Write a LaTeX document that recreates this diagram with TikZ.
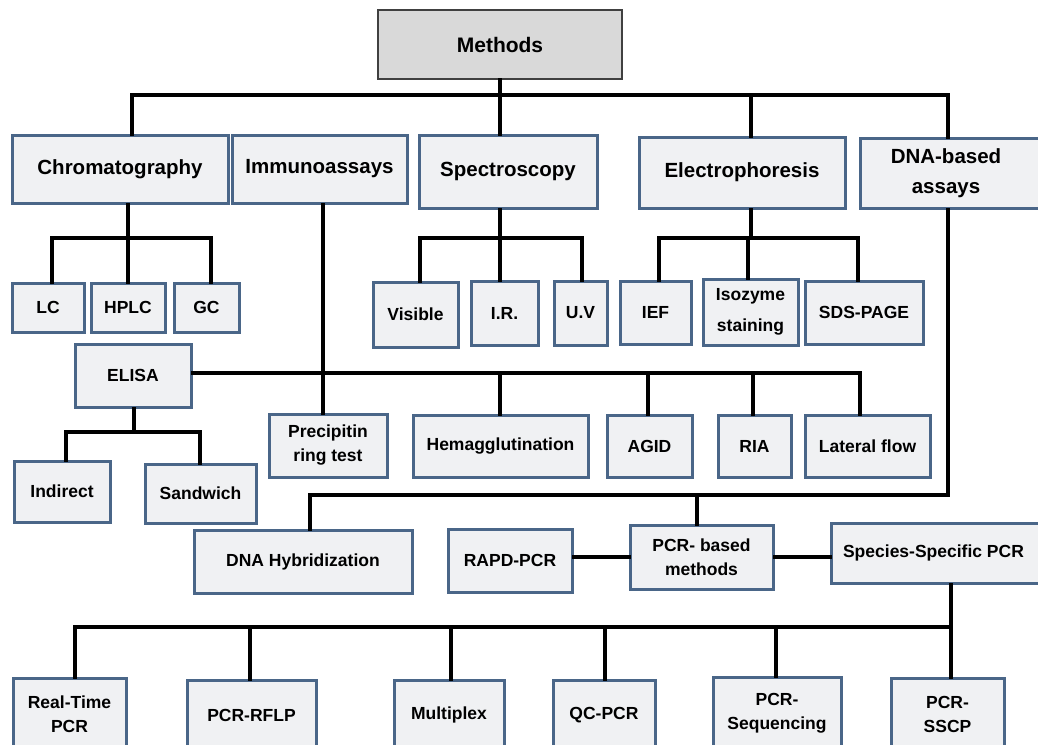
\documentclass[tikz,border=0pt]{standalone}
\usepackage{fontspec}
\setmainfont{Liberation Sans}
\definecolor{boxfill}{HTML}{F0F1F3}
\definecolor{boxline}{HTML}{4A6688}
\definecolor{topfill}{HTML}{D9D9D9}
\definecolor{topline}{HTML}{404040}
\tikzset{
  box/.style={draw=boxline, line width=3pt, fill=boxfill, inner sep=0pt, align=center,
    font=\bfseries\fontsize{17.5}{24}\selectfont},
  hbox/.style={box, font=\bfseries\fontsize{20.5}{30}\selectfont},
  tbox/.style={draw=topline, line width=1.5pt, fill=topfill, inner sep=0pt, align=center,
    font=\bfseries\fontsize{21}{26}\selectfont},
  conn/.style={line width=4pt, black, line cap=rect},
}
\newcommand\mkbox[7]{%
  \node[#1, minimum width={(#5)-(#3)}, minimum height={(#6)-(#4)}] (#2)
    at ({((#3)+(#5))/2},{-((#4)+(#6))/2}) {#7};}
\begin{document}
\begin{tikzpicture}[x=1pt,y=1pt]
\useasboundingbox (0,0) rectangle (1038,-744);
\clip (0,0) rectangle (1038,-744);
\fill[white] (0,0) rectangle (1038,-744);
% junction coordinates
\coordinate (j1) at (132,-95);
\coordinate (j2) at (948,-95);
\coordinate (j3) at (751,-95);
\coordinate (c0) at (128,-238);
\coordinate (cL) at (52,-238);
\coordinate (cR) at (211,-238);
\coordinate (s0) at (500,-238);
\coordinate (sL) at (420,-238);
\coordinate (sR) at (582,-238);
\coordinate (e0) at (751,-238);
\coordinate (eL) at (659,-238);
\coordinate (eM) at (748,-238);
\coordinate (eR) at (858,-238);
\coordinate (i0) at (323,-373);
\coordinate (iH) at (500,-373);
\coordinate (iA) at (648,-373);
\coordinate (iR) at (753,-373);
\coordinate (iL) at (860,-373);
\coordinate (l0) at (134,-432);
\coordinate (lL) at (66,-432);
\coordinate (lR) at (200,-432);
\coordinate (d0) at (948,-495);
\coordinate (dH) at (310,-495);
\coordinate (dP) at (697,-495);
\coordinate (p0) at (951,-627);
\coordinate (p1) at (75,-627);
\coordinate (p2) at (250,-627);
\coordinate (p3) at (451,-627);
\coordinate (p4) at (605,-627);
\coordinate (p5) at (776,-627);

% boxes
\mkbox{tbox}{methods}{378}{10}{622}{79}{Methods}
\mkbox{hbox}{chrom}{12}{135}{228}{203}{Chromatography}
\mkbox{hbox}{immuno}{232}{135}{407}{203}{Immunoassays}
\mkbox{hbox}{spectro}{419}{135}{597}{208}{Spectroscopy}
\mkbox{hbox}{electro}{639}{137}{845}{208}{Electrophoresis}
\mkbox{hbox}{dna}{860}{138}{1044}{208}{\hspace*{-6pt}DNA-based\hspace*{6pt}\\\hspace*{-6pt}assays\hspace*{6pt}}
\mkbox{box}{lc}{12}{283}{84}{332}{LC}
\mkbox{box}{hplc}{91}{283}{165}{332}{HPLC}
\mkbox{box}{gc}{174}{283}{239}{332}{GC}
\mkbox{box}{visible}{373}{282}{458}{347}{Visible}
\mkbox{box}{ir}{471}{281}{538}{345}{I.R.}
\mkbox{box}{uv}{554}{281}{607}{345}{U.V}
\mkbox{box}{ief}{620}{281}{691}{344}{IEF}
\node[box, minimum width=95, minimum height=66, font=\bfseries\fontsize{17.5}{31}\selectfont] (iso) at (750.5,-312) {Isozyme\\staining};
\mkbox{box}{sds}{805}{281}{923}{344}{SDS-PAGE}
\mkbox{box}{elisa}{75}{344}{191}{407}{ELISA}
\mkbox{box}{prec}{269}{414}{387}{477}{Precipitin\\ring test}
\mkbox{box}{hemag}{413}{415}{588}{477}{Hemagglutination}
\mkbox{box}{agid}{607}{415}{692}{477}{AGID}
\mkbox{box}{ria}{718}{415}{791}{477}{RIA}
\mkbox{box}{lat}{805}{415}{930}{477}{Lateral flow}
\mkbox{box}{indirect}{14}{461}{110}{522}{Indirect}
\mkbox{box}{sandwich}{145}{464}{256}{523}{Sandwich}
\mkbox{box}{hyb}{194}{530}{412}{593}{DNA Hybridization}
\mkbox{box}{rapd}{448}{529}{572}{592}{RAPD-PCR}
\mkbox{box}{pcrb}{630}{525}{773}{589}{PCR- based\\methods}
\mkbox{box}{species}{831}{523}{1044}{583}{\hspace*{-4pt}Species-Specific PCR\hspace*{4pt}}
\mkbox{box}{rt}{13}{678}{126}{750}{Real-Time\\PCR}
\mkbox{box}{rflp}{187}{680}{316}{750}{PCR-RFLP}
\mkbox{box}{multi}{394}{680}{504}{750}{Multiplex}
\mkbox{box}{qc}{553}{680}{655}{750}{QC-PCR}
\mkbox{box}{seq}{713}{677}{841}{750}{PCR-\\Sequencing}
\mkbox{box}{sscp}{891}{678}{1004}{750}{PCR-\\SSCP}

% top level connectors
\draw[conn] (j1) -- (j2);
\draw[conn] (methods.south) -- (methods.south |- spectro.north);
\draw[conn] (j1) -- (j1 |- chrom.north);
\draw[conn] (j3) -- (j3 |- electro.north);
\draw[conn] (j2) -- (j2 |- dna.north);
% chromatography
\draw[conn] (c0 |- chrom.south) -- (c0);
\draw[conn] (cL) -- (cR);
\draw[conn] (cL) -- (cL |- lc.north);
\draw[conn] (c0) -- (c0 |- hplc.north);
\draw[conn] (cR) -- (cR |- gc.north);
% spectroscopy
\draw[conn] (s0 |- spectro.south) -- (s0);
\draw[conn] (sL) -- (sR);
\draw[conn] (sL) -- (sL |- visible.north);
\draw[conn] (s0) -- (s0 |- ir.north);
\draw[conn] (sR) -- (sR |- uv.north);
% electrophoresis
\draw[conn] (e0 |- electro.south) -- (e0);
\draw[conn] (eL) -- (eR);
\draw[conn] (eL) -- (eL |- ief.north);
\draw[conn] (eM) -- (eM |- iso.north);
\draw[conn] (eR) -- (eR |- sds.north);
% immunoassays
\draw[conn] (i0 |- immuno.south) -- (i0 |- prec.north);
\draw[conn] (elisa.east |- i0) -- (iL);
\draw[conn] (iH) -- (iH |- hemag.north);
\draw[conn] (iA) -- (iA |- agid.north);
\draw[conn] (iR) -- (iR |- ria.north);
\draw[conn] (iL) -- (iL |- lat.north);
% ELISA
\draw[conn] (l0 |- elisa.south) -- (l0);
\draw[conn] (lL) -- (lR);
\draw[conn] (lL) -- (lL |- indirect.north);
\draw[conn] (lR) -- (lR |- sandwich.north);
% DNA-based
\draw[conn] (d0 |- dna.south) -- (d0) -- (dH) -- (dH |- hyb.north);
\draw[conn] (dP) -- (dP |- pcrb.north);
\draw[conn] (rapd.east |- 0,-557) -- (pcrb.west |- 0,-557);
\draw[conn] (pcrb.east |- 0,-557) -- (species.west |- 0,-557);
% species-specific
\draw[conn] (p0 |- species.south) -- (p0 |- sscp.north);
\draw[conn] (p1) -- (p0);
\draw[conn] (p1) -- (p1 |- rt.north);
\draw[conn] (p2) -- (p2 |- rflp.north);
\draw[conn] (p3) -- (p3 |- multi.north);
\draw[conn] (p4) -- (p4 |- qc.north);
\draw[conn] (p5) -- (p5 |- seq.north);
\end{tikzpicture}
\end{document}
